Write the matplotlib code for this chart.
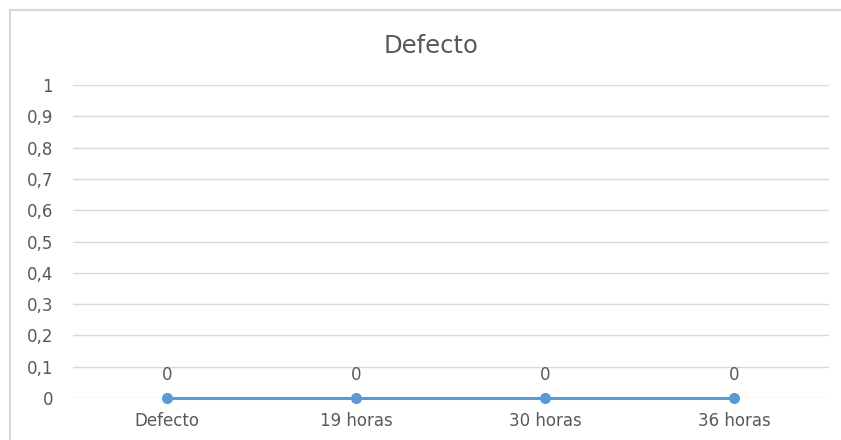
import matplotlib.pyplot as plt
from matplotlib.lines import Line2D
from matplotlib.ticker import FuncFormatter

categorias = ["Defecto", "19 horas", "30 horas", "36 horas"]
valores = [0, 0, 0, 0]
ticks_y = [0, 0.1, 0.2, 0.3, 0.4, 0.5, 0.6, 0.7, 0.8, 0.9, 1]

plt.rcParams["font.family"] = ["DejaVu Sans"]

W, H = 841, 440
fig = plt.figure(figsize=(W / 100, H / 100), dpi=100)

# marco exterior del gráfico (solo izquierda y arriba se ven)
borde = dict(color="#d9d9d9", linewidth=1.5, transform=fig.transFigure)
fig.add_artist(Line2D([10 / W, 10 / W], [0, 1 - 10 / H], **borde))
fig.add_artist(Line2D([10 / W, 1], [1 - 10 / H, 1 - 10 / H], **borde))

ax = fig.add_axes([72.5 / W, 1 - 398 / H, (828.5 - 72.5) / W, (398 - 85) / H])
x = range(len(categorias))
ax.plot(x, valores, "o-", color="#5b9bd5", linewidth=2.2, markersize=7, zorder=3,
        clip_on=False)
for xi, v in zip(x, valores):
    ax.annotate(f"{v}", (xi, v), xytext=(0, 10), textcoords="offset points",
                ha="center", va="bottom", fontsize=12, color="#595959")

ax.set_xlim(-0.5, len(categorias) - 0.5)
ax.set_ylim(0, 1)
ax.set_yticks(ticks_y)
ax.yaxis.set_major_formatter(FuncFormatter(lambda v, p: f"{v:g}".replace(".", ",")))
ax.set_xticks(list(x))
ax.set_xticklabels(categorias)
ax.tick_params(length=0, labelsize=12, labelcolor="#595959")
ax.tick_params(axis="y", pad=14)
ax.tick_params(axis="x", pad=10)
ax.grid(axis="y", color="#d9d9d9", linewidth=1)
ax.set_axisbelow(True)
for s in ax.spines.values():
    s.set_visible(False)

fig.text(431 / W, 1 - 53 / H, "Defecto", ha="center", va="baseline",
         fontsize=17.5, color="#595959")

fig.savefig("out.png", dpi=100)
